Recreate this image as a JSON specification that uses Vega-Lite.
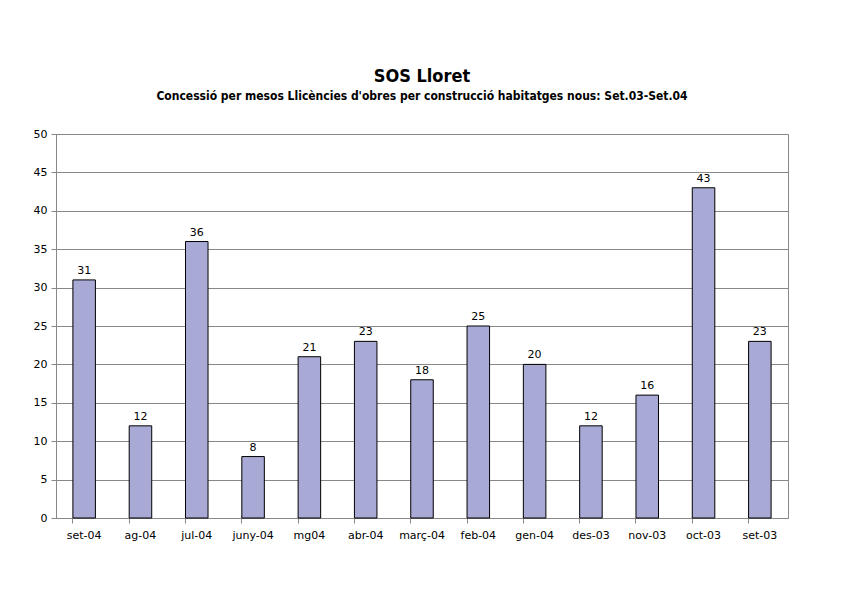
{
  "$schema": "https://vega.github.io/schema/vega-lite/v6.json",
  "width": 732,
  "height": 384,
  "autosize": {"type": "none"},
  "padding": {"left": 56, "top": 134, "right": 54, "bottom": 77},
  "background": "white",
  "title": {
    "text": "SOS Lloret",
    "subtitle": "Concessió per mesos Llicències d'obres per construcció habitatges nous: Set.03-Set.04",
    "font": "DejaVu Sans Condensed, Open Sans, sans-serif",
    "fontSize": 18,
    "fontWeight": "bold",
    "color": "black",
    "subtitleFont": "DejaVu Sans Condensed, Open Sans, sans-serif",
    "subtitleFontSize": 12,
    "subtitleFontWeight": "bold",
    "subtitleColor": "black",
    "subtitlePadding": 5,
    "anchor": "middle",
    "offset": 26
  },
  "data": {
    "values": [
      {"mes": "set-04", "n": 31},
      {"mes": "ag-04", "n": 12},
      {"mes": "jul-04", "n": 36},
      {"mes": "juny-04", "n": 8},
      {"mes": "mg04", "n": 21},
      {"mes": "abr-04", "n": 23},
      {"mes": "març-04", "n": 18},
      {"mes": "feb-04", "n": 25},
      {"mes": "gen-04", "n": 20},
      {"mes": "des-03", "n": 12},
      {"mes": "nov-03", "n": 16},
      {"mes": "oct-03", "n": 43},
      {"mes": "set-03", "n": 23}
    ]
  },
  "encoding": {
    "x": {
      "field": "mes",
      "type": "nominal",
      "sort": null,
      "scale": {"paddingInner": 0.6, "paddingOuter": 0.3},
      "axis": {
        "title": null,
        "labelAngle": 0,
        "labelFont": "DejaVu Sans",
        "labelFontSize": 11,
        "labelColor": "black",
        "labelPadding": 6,
        "bandPosition": 0,
        "ticks": true,
        "tickColor": "#888888",
        "tickSize": 5,
        "domainColor": "#888888",
        "grid": false
      }
    },
    "y": {
      "field": "n",
      "type": "quantitative",
      "scale": {"domain": [0, 50], "nice": false},
      "axis": {
        "title": null,
        "values": [0, 5, 10, 15, 20, 25, 30, 35, 40, 45, 50],
        "labelFont": "DejaVu Sans",
        "labelFontSize": 11,
        "labelColor": "black",
        "labelPadding": 4,
        "tickColor": "#888888",
        "tickSize": 5,
        "domainColor": "#888888",
        "gridColor": "#888888",
        "gridOpacity": 1
      }
    }
  },
  "layer": [
    {
      "mark": {"type": "bar", "color": "#a8a9d5", "stroke": "black", "strokeWidth": 1}
    },
    {
      "mark": {"type": "text", "baseline": "bottom", "dy": -4, "font": "DejaVu Sans", "fontSize": 11, "color": "black"},
      "encoding": {"text": {"field": "n", "type": "quantitative"}}
    }
  ],
  "config": {
    "view": {"stroke": "#888888", "strokeWidth": 1}
  }
}
